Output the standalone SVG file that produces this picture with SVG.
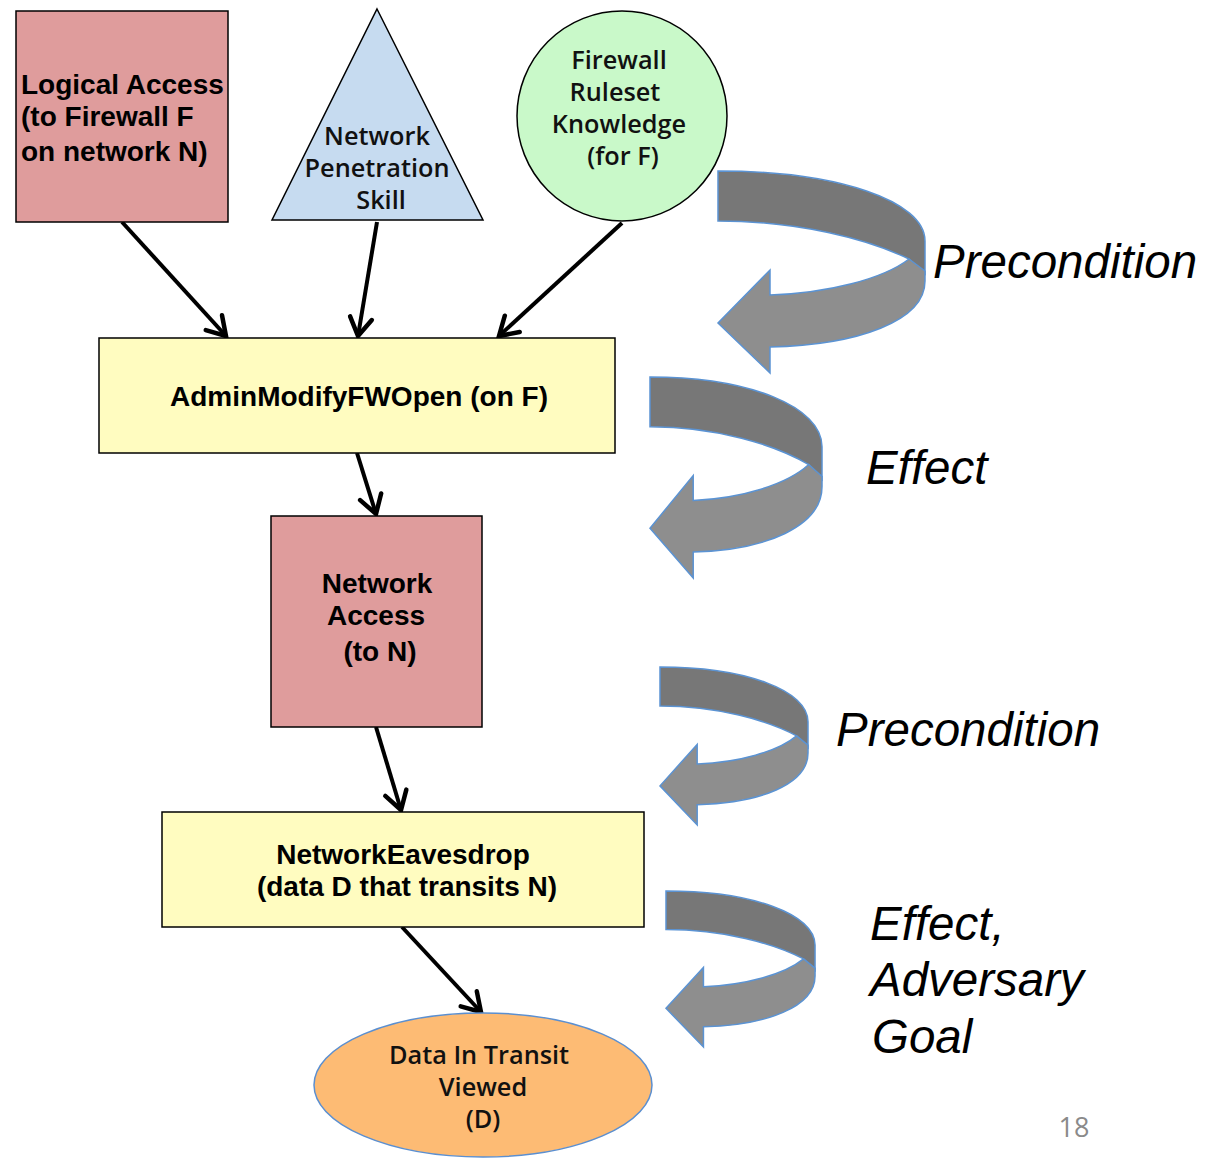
<svg xmlns="http://www.w3.org/2000/svg" width="1218" height="1158" viewBox="0 0 1218 1158">
<defs>
<style>
.a{font-family:"Liberation Sans",Arial,sans-serif;font-weight:bold;font-size:28px;fill:#000}
.h{font-family:"Open Sans","Noto Sans",sans-serif;font-weight:600;font-size:25.3px;fill:#111}
.lab{font-family:"Liberation Sans",Arial,sans-serif;font-style:italic;font-size:47.5px;fill:#000}
.pink{fill:#df9c9c;stroke:#000;stroke-width:1.5}
.yel{fill:#fffcc0;stroke:#000;stroke-width:1.5}
.con{stroke:#000;stroke-width:4;fill:none;marker-end:url(#ah)}
.dk{fill:#777;stroke:#5b93d3;stroke-width:1.5}
.lt{fill:#8e8e8e;stroke:#5b93d3;stroke-width:1.5}
</style>
<marker id="ah" viewBox="-22 -14 26 28" markerWidth="26" markerHeight="28" refX="0" refY="0" orient="auto" markerUnits="userSpaceOnUse">
<path d="M-18,-11 L0,0 L-18,11" fill="none" stroke="#000" stroke-width="4.5" stroke-linecap="round" stroke-linejoin="miter"/>
</marker>
<g id="curv">
<path class="dk" vector-effect="non-scaling-stroke" d="M0,0 C120,0 207,30 207,70 L207,103 L191,88 C150,68 80,50 0,50 Z"/>
<path class="lt" vector-effect="non-scaling-stroke" d="M191,88 L207,100 L207,110 C207,150 140,174 52,176 L52,202 L0,152 L52,99 L52,124 C110,122 165,108 191,88 Z"/>
</g>
</defs>
<rect width="1218" height="1158" fill="#fff"/>

<g id="connectors">
<line class="con" x1="122" y1="222" x2="226" y2="336"/>
<line class="con" x1="377" y1="222" x2="358" y2="336"/>
<line class="con" x1="622" y1="223" x2="499" y2="336"/>
<line class="con" x1="357" y1="453" x2="376" y2="514"/>
<line class="con" x1="376" y1="727" x2="401" y2="810"/>
<line class="con" x1="402" y1="927" x2="481" y2="1012"/>
</g>

<g id="logical-access">
<rect class="pink" x="16" y="11" width="212" height="211"/>
<text class="a" x="21" y="94">Logical Access</text>
<text class="a" x="21" y="126">(to Firewall F</text>
<text class="a" x="21" y="161">on network N)</text>
</g>

<g id="pen-skill">
<polygon points="377,9 483,220 272,220" fill="#c6dbf0" stroke="#000" stroke-width="1.5"/>
<text class="h" text-anchor="middle" x="377" y="145">Network</text>
<text class="h" text-anchor="middle" x="377" y="177">Penetration</text>
<text class="h" text-anchor="middle" x="381" y="209">Skill</text>
</g>

<g id="fw-knowledge">
<circle cx="622" cy="116" r="105" fill="#c9f9c9" stroke="#000" stroke-width="1.5"/>
<text class="h" text-anchor="middle" x="619" y="69">Firewall</text>
<text class="h" text-anchor="middle" x="615" y="101">Ruleset</text>
<text class="h" text-anchor="middle" x="619" y="133">Knowledge</text>
<text class="h" text-anchor="middle" x="623" y="165">(for F)</text>
</g>

<g id="admin-modify">
<rect class="yel" x="99" y="338" width="516" height="115"/>
<text class="a" text-anchor="middle" x="359" y="406">AdminModifyFWOpen (on F)</text>
</g>

<g id="network-access">
<rect class="pink" x="271" y="516" width="211" height="211"/>
<text class="a" text-anchor="middle" x="377" y="593">Network</text>
<text class="a" text-anchor="middle" x="376" y="625">Access</text>
<text class="a" text-anchor="middle" x="380" y="661">(to N)</text>
</g>

<g id="eavesdrop">
<rect class="yel" x="162" y="812" width="482" height="115"/>
<text class="a" text-anchor="middle" x="403" y="864">NetworkEavesdrop</text>
<text class="a" text-anchor="middle" x="407" y="896">(data D that transits N)</text>
</g>

<g id="data-viewed">
<ellipse cx="483" cy="1085" rx="169" ry="72" fill="#fdbb74" stroke="#5b8fd0" stroke-width="1.5"/>
<text class="h" text-anchor="middle" x="479" y="1064">Data In Transit</text>
<text class="h" text-anchor="middle" x="483" y="1096">Viewed</text>
<text class="h" text-anchor="middle" x="483" y="1128">(D)</text>
</g>

<g id="curved-arrows">
<use href="#curv" transform="translate(718,171)"/>
<use href="#curv" transform="translate(650,377) scale(0.831,0.995)"/>
<use href="#curv" transform="translate(660,667) scale(0.715,0.782)"/>
<use href="#curv" transform="translate(666,891) scale(0.72,0.772)"/>
</g>

<g id="labels">
<text class="lab" x="933" y="278">Precondition</text>
<text class="lab" x="866" y="484">Effect</text>
<text class="lab" x="836" y="746">Precondition</text>
<text class="lab" x="870" y="940">Effect,</text>
<text class="lab" x="870" y="996">Adversary</text>
<text class="lab" x="872" y="1053">Goal</text>
<text x="1074" y="1137" text-anchor="middle" font-family="Open Sans,Liberation Sans,sans-serif" font-size="27" fill="#8a8a8a">18</text>
</g>
</svg>
